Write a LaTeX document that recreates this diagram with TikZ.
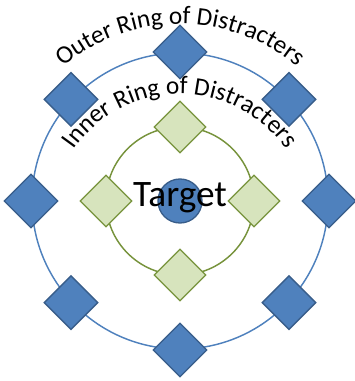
\documentclass[tikz,border=0pt]{standalone}
\usepackage{fontspec}
\setmainfont{Carlito}
\usetikzlibrary{shapes.geometric,decorations.text}

\definecolor{ringblue}{HTML}{4F81BD}
\definecolor{edgeblue}{HTML}{385D8A}
\definecolor{ringgreen}{HTML}{77933C}
\definecolor{fillgreen}{HTML}{D7E4BD}

\newcommand{\arcfont}{\fontsize{19}{21}\selectfont}

\begin{document}
\begin{tikzpicture}[x=0.75pt,y=0.75pt,
    outerdist/.style={diamond, draw=edgeblue, fill=ringblue, line width=1pt, inner sep=0pt, minimum size=40.5pt},
    innerdist/.style={diamond, draw=ringgreen, fill=fillgreen, line width=1pt, inner sep=0pt, minimum size=39pt}]
                    \useasboundingbox (0,0) rectangle (354,381);
                    \draw[ringblue, line width=1.1pt] (180,180) circle[radius=148];
                    \draw[ringgreen, line width=1.1pt] (180,180) circle[radius=74];
                    \foreach \a in {0,43,90,137,180,223,270,317}
                        \node[outerdist] (out-\a) at ([shift={(\a:149)}]180,180) {};
                    \foreach \a in {0,90,180,270}
                        \node[innerdist] (in-\a) at ([shift={(\a:74)}]180,180) {};
                    \node[circle, draw=edgeblue, fill=ringblue, line width=1pt, minimum size=33pt, inner sep=0pt] (target) at (180,180) {};
                    \node[anchor=base, inner sep=0pt, font=\fontsize{28}{30}\selectfont] (label) at (180,174) {Target};
                    \path[shift={(180,177)}, decorate, decoration={text along path, text align=center,
                        text={|\arcfont|Outer Ring of Distracters}}] (140:180) arc[start angle=140, end angle=40, radius=180];
                    \path[shift={(180,158)}, decorate, decoration={text along path, text align=center,
                        text={|\arcfont|Inner Ring of Distracters}}] (150:129) arc[start angle=150, end angle=30, radius=129];
                \end{tikzpicture}
\end{document}
